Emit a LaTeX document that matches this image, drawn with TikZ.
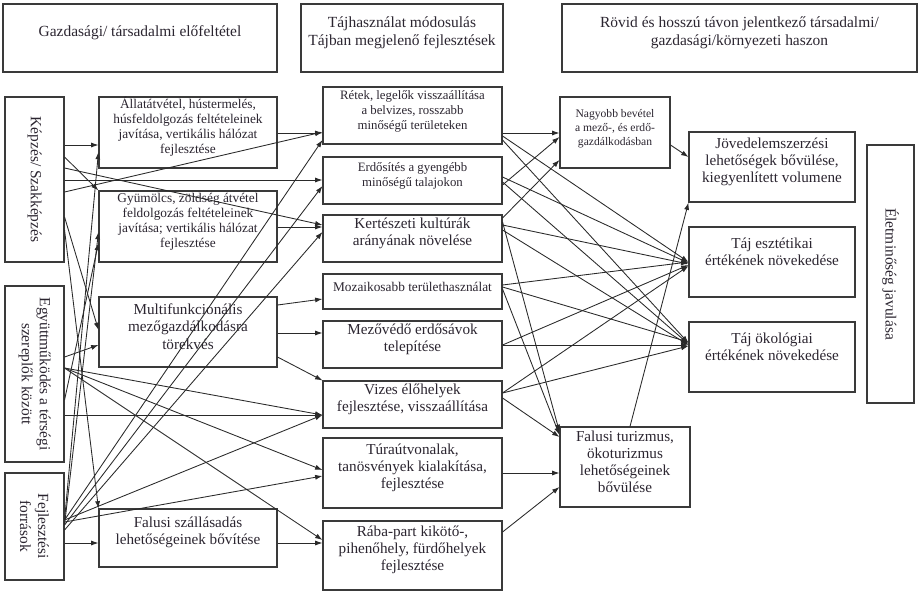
\documentclass[tikz,border=0pt]{standalone}
\usepackage{fontspec}
\setmainfont{Liberation Serif}
\usetikzlibrary{arrows.meta,fit}
\definecolor{boxc}{HTML}{3A3A3A}
\definecolor{linec}{HTML}{2A2A2A}
\definecolor{txt}{HTML}{2B2530}
\newcommand\fhd{\fontsize{11.6}{13.5}\selectfont}
\newcommand\fbig{\fontsize{11.4}{12.8}\selectfont}
\newcommand\fmed{\fontsize{10}{11.2}\selectfont}
\newcommand\fsml{\fontsize{9.6}{11.2}\selectfont}
\newcommand\ftny{\fontsize{8.7}{10.5}\selectfont}
\newcommand\cn[4]{\draw[arr] (#1 |- 0,#2) -- (#3 |- 0,#4);}
\begin{document}
\begin{tikzpicture}[x=0.75pt,y=-0.75pt,
  box/.style={draw=boxc,line width=0.8pt,inner sep=0pt,align=center,text=txt},
  lbl/.style={align=center,text=txt,inner sep=0pt},
  arr/.style={draw=linec,line width=0.65pt,-{Latex[length=5.5pt,width=3.8pt]}}]
\useasboundingbox (0,0) rectangle (921,594);
% headers
\node[box,font=\fhd,fit={(3,4)(277,72)}] (H1) {Gazdasági/ társadalmi előfeltétel};
\node[box,font=\fhd,fit={(301,4)(503,72)}] (H2) {Tájhasználat módosulás\\Tájban megjelenő fejlesztések};
\node[box,font=\fhd,fit={(562,4)(917,72)}] (H3) {Rövid és hosszú távon jelentkező társadalmi/\\gazdasági/környezeti haszon};
% left column
\node[box,fit={(5,97)(64,262)}] (L1) {};
\node[lbl,font=\fhd,rotate=-90] (L1t) at (L1.center) {Képzés/ Szakképzés};
\node[box,fit={(5,286)(64,462)}] (L2) {};
\node[lbl,font=\fhd,rotate=-90] (L2t) at (L2.center) {Együttműködés a térségi\\szereplők között};
\node[box,fit={(5,473)(64,580)}] (L3) {};
\node[lbl,font=\fhd,rotate=-90] (L3t) at (L3.center) {Fejlesztési\\források};
% column 2
\node[box,font=\fmed,fit={(99,97)(277,168)}] (A) {Állatátvétel, hústermelés,\\húsfeldolgozás feltételeinek\\javítása, vertikális hálózat\\fejlesztése};
\node[box,font=\fmed,fit={(99,191)(277,262)}] (B) {Gyümölcs, zöldség átvétel\\feldolgozás feltételeinek\\javítása; vertikális hálózat\\fejlesztése};
\node[box,font=\fbig,fit={(99,297)(277,367)}] (C) {Multifunkcionális\\mezőgazdálkodásra\\törekvés};
\node[box,font=\fbig,fit={(99,509)(277,567)}] (D) {Falusi szállásadás\\lehetőségeinek bővítése};
% column 3
\node[box,font=\fsml,fit={(323,87)(502,144)}] (E) {Rétek, legelők visszaállítása\\a belvizes, rosszabb\\minőségű területeken};
\node[box,font=\fsml,fit={(323,157)(502,204)}] (F) {Erdősítés a gyengébb\\minőségű talajokon};
\node[box,font=\fbig,fit={(323,215)(502,262)}] (G) {Kertészeti kultúrák\\arányának növelése};
\node[box,font=\fmed,fit={(323,274)(502,309)}] (H) {Mozaikosabb területhasználat};
\node[box,font=\fbig,fit={(323,321)(502,368)}] (I) {Mezővédő erdősávok\\telepítése};
\node[box,font=\fbig,fit={(323,381)(502,428)}] (J) {Vizes élőhelyek\\fejlesztése, visszaállítása};
\node[box,font=\fbig,fit={(323,438)(502,508)}] (K) {Túraútvonalak,\\tanösvények kialakítása,\\fejlesztése};
\node[box,font=\fbig,fit={(323,521)(502,590)}] (L) {Rába-part kikötő-,\\pihenőhely, fürdőhelyek\\fejlesztése};
% column 4
\node[box,font=\ftny,fit={(560,97)(670,168)}] (M) {Nagyobb bevétel\\a mező-, és erdő-\\gazdálkodásban};
\node[box,font=\fbig,fit={(560,427)(690,507)}] (N) {Falusi turizmus,\\ökoturizmus\\lehetőségeinek\\bővülése};
% column 5
\node[box,font=\fbig,fit={(689,132)(855,202)}] (O) {Jövedelemszerzési\\lehetőségek bővülése,\\kiegyenlített volumene};
\node[box,fit={(689,227)(855,297)}] (P) {};
\node[lbl,font=\fbig,yshift=8pt] (Pt) at (P.center) {Táj esztétikai\\értékének növekedése};
\node[box,fit={(689,322)(855,392)}] (Q) {};
\node[lbl,font=\fbig,yshift=8pt] (Qt) at (Q.center) {Táj ökológiai\\értékének növekedése};
% right
\node[box,fit={(867,145)(914,403)}] (R) {};
\node[lbl,font=\fhd,rotate=-90] (Rt) at (R.center) {Életminőség javulása};
% connectors: column 1 -> 2/3
\cn{L1.east}{145}{A.west}{145}
\draw[arr] (L1.east |- 0,157) -- (B.north west);
\cn{L1.east}{217}{C.west}{330}
\draw[arr] (L1.east |- 0,230) -- (D.north west);
\cn{L1.east}{192}{E.west}{132}
\cn{L1.east}{180}{F.west}{180}
\cn{L1.east}{168}{G.west}{225}
\cn{L2.east}{357}{C.west}{345}
\cn{L2.east}{400}{B.west}{243}
\cn{L2.east}{368}{J.west}{415}
\cn{L2.east}{368}{K.west}{470}
\cn{L2.east}{368}{L.west}{540}
\cn{L2.east}{415}{J.west}{415}
\cn{L3.east}{520}{A.west}{152}
\cn{L3.east}{525}{B.west}{232}
\cn{L3.east}{520}{E.west}{140}
\cn{L3.east}{525}{F.west}{186}
\cn{L3.east}{530}{G.west}{232}
\cn{L3.east}{520}{J.west}{415}
\cn{L3.east}{522}{K.west}{476}
\cn{L3.east}{543}{D.west}{543}
% column 2 -> 3
\cn{A.east}{133}{E.west}{133}
\cn{B.east}{227}{G.west}{227}
\cn{C.east}{305}{H.west}{299}
\cn{C.east}{333}{I.west}{333}
\draw[arr] (C.east |- 0,357) -- (J.north west);
\cn{D.east}{543}{L.west}{543}
% column 3 -> 4/5
\cn{E.east}{133}{M.west}{133}
\cn{F.east}{185}{M.west}{137}
\cn{G.east}{218}{M.west}{160}
\cn{E.east}{136}{P.west}{262}
\cn{E.east}{140}{Q.west}{343}
\cn{F.east}{177}{P.west}{263}
\cn{F.east}{182}{Q.west}{344}
\cn{G.east}{225}{P.west}{264}
\cn{G.east}{230}{Q.west}{345}
\cn{G.east}{222}{N.west}{432}
\cn{H.east}{285}{P.west}{262}
\cn{H.east}{287}{Q.west}{342}
\cn{H.east}{289}{N.west}{435}
\cn{I.east}{345}{P.west}{265}
\cn{I.east}{345}{Q.west}{345}
\cn{J.east}{393}{P.west}{266}
\cn{J.east}{393}{Q.west}{346}
\cn{J.east}{398}{N.west}{437}
\cn{K.east}{473}{N.west}{473}
\cn{L.east}{532}{N.west}{487}
% column 4 -> 5
\cn{M.east}{145}{O.west}{157}
\draw[arr] (N.north -| 630,0) -- (O.south west);
\end{tikzpicture}
\end{document}
